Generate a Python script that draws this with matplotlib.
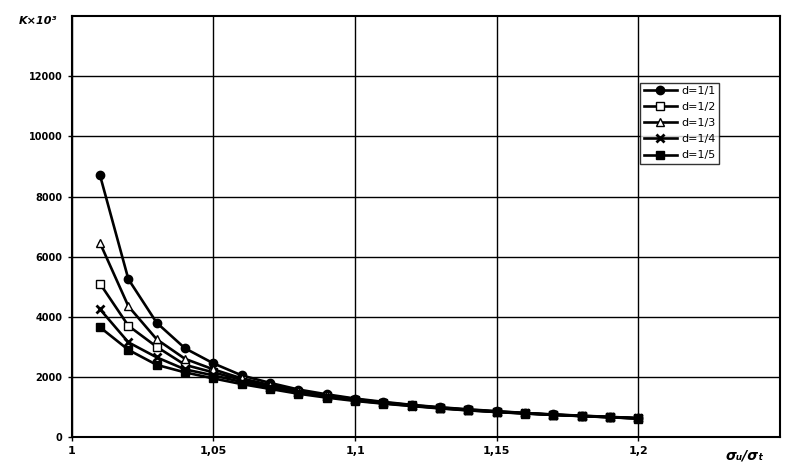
import matplotlib
matplotlib.use("Agg")
import matplotlib.pyplot as plt

x = [1.01, 1.02, 1.03, 1.04, 1.05, 1.06, 1.07, 1.08, 1.09, 1.10,
     1.11, 1.12, 1.13, 1.14, 1.15, 1.16, 1.17, 1.18, 1.19, 1.20]

d1 = [8700, 5250, 3800, 2950, 2450, 2050, 1800, 1580, 1420, 1280,
      1170, 1070, 990, 920, 860, 800, 750, 710, 670, 630]
d2 = [5100, 3700, 3000, 2400, 2150, 1900, 1680, 1500, 1360, 1240,
      1140, 1050, 970, 900, 840, 790, 740, 700, 660, 620]
d3 = [6450, 4350, 3250, 2600, 2250, 1950, 1730, 1540, 1390, 1260,
      1150, 1060, 980, 910, 850, 795, 745, 705, 665, 625]
d4 = [4250, 3150, 2650, 2250, 2050, 1830, 1640, 1470, 1340, 1220,
      1120, 1040, 960, 890, 835, 785, 738, 698, 658, 618]
d5 = [3650, 2900, 2400, 2150, 1950, 1760, 1600, 1440, 1310, 1200,
      1110, 1030, 950, 885, 830, 780, 735, 695, 655, 615]

labels = ["d=1/1", "d=1/2", "d=1/3", "d=1/4", "d=1/5"]
xticks = [1.0, 1.05, 1.1, 1.15, 1.2]
xticklabels = ["1", "1,05", "1,1", "1,15", "1,2"]
yticks = [0, 2000, 4000, 6000, 8000, 10000, 12000]

fig = plt.figure(figsize=(7.88, 4.74), dpi=100)
ax = fig.add_axes([0.091, 0.078, 0.899, 0.888])

series = [d1, d2, d3, d4, d5]
styles = [
    dict(marker="o", mfc="black", ms=6),
    dict(marker="s", mfc="white", ms=6),
    dict(marker="^", mfc="white", ms=6),
    dict(marker="x", mfc="black", ms=6, mew=2),
    dict(marker="s", mfc="black", ms=6),
]
for s, lab, st in zip(series, labels, styles):
    ax.plot(x, s, color="black", lw=1.9, mec="black", label=lab, **st)

ax.set_xlim(1.0, 1.25)
ax.set_ylim(0, 14000)
ax.set_xticks(xticks)
ax.set_xticklabels(xticklabels, fontsize=8, fontweight="bold")
ax.set_yticks(yticks)
ax.set_yticklabels([str(v) for v in yticks], fontsize=7, fontweight="bold")
ax.grid(True, color="black", lw=1.0)
ax.set_axisbelow(True)
for sp in ax.spines.values():
    sp.set_linewidth(1.5)
ax.tick_params(length=3, width=1)

fig.text(0.048, 0.955, "K×10³", fontsize=8, fontweight="bold", style="italic",
         ha="center", va="center")
fig.text(0.945, 0.04, "σᵤ/σₜ", fontsize=10, fontweight="bold", style="italic",
         ha="center", va="center")

leg = ax.legend(loc="upper left", bbox_to_anchor=(0.795, 0.855), frameon=True,
                fancybox=False, edgecolor="black", fontsize=8, handlelength=3.0,
                borderpad=0.3, labelspacing=0.55, handletextpad=0.4)
leg.get_frame().set_linewidth(1.0)

fig.savefig("out.png", dpi=100, facecolor="white")
